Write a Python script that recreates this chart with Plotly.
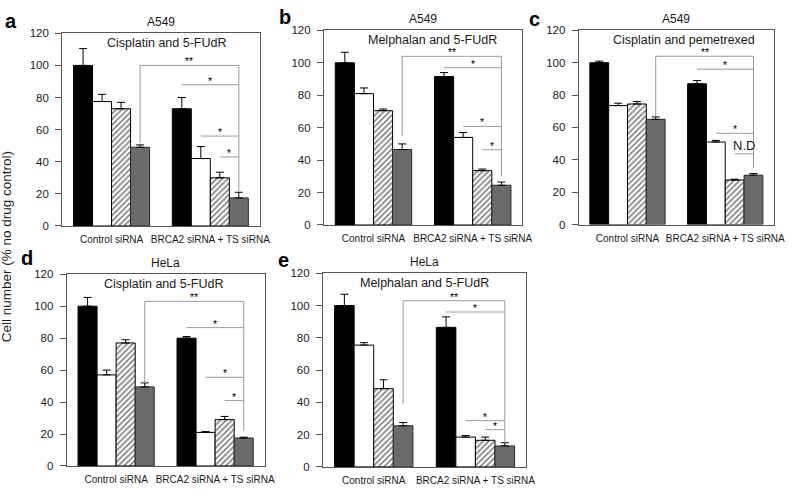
import plotly.graph_objects as go

W, H = 794, 490

groups = ["Control siRNA", "BRCA2 siRNA + TS siRNA"]
conditions = ["No drug", "Drug A", "Drug B", "Combination"]

panel_letters = ["a", "b", "c", "d", "e"]
cell_lines = ["A549", "A549", "A549", "HeLa", "HeLa"]
treatments = ["Cisplatin and 5-FUdR", "Melphalan and 5-FUdR", "Cisplatin and pemetrexed",
              "Cisplatin and 5-FUdR", "Melphalan and 5-FUdR"]

# means[condition] = [Control siRNA, BRCA2 siRNA + TS siRNA]; tops = mean + SD
a_means = [[100, 73], [77.5, 42], [73, 30], [49, 17.5]]
a_tops = [[110.5, 80], [82, 49.5], [77, 33.5], [50.5, 21]]
b_means = [[100, 91.5], [81, 54], [70.5, 33.5], [46.5, 24.5]]
b_tops = [[106.5, 94], [84.5, 57], [71.5, 34.5], [50, 26.5]]
c_means = [[100, 87], [73.5, 51], [74.5, 27.5], [65, 30.5]]
c_tops = [[101, 89], [75, 52], [76, 28], [66.5, 31.5]]
d_means = [[100, 80], [57, 21], [77, 29], [49.5, 17.5]]
d_tops = [[105.5, 81], [60, 21.5], [79, 31], [52, 18]]
e_means = [[100, 86.5], [75.5, 18.5], [48.5, 16.5], [25.5, 13]]
e_tops = [[107, 93], [77, 19.5], [54, 18.5], [27.5, 15]]

all_means = [a_means, b_means, c_means, d_means, e_means]
all_tops = [a_tops, b_tops, c_tops, d_tops, e_tops]

# significance brackets: (level of ** line, left foot, right foot, [(condition, level, label)])
a_sig = (100, 52, 21.5, [(0, 88, "*"), (1, 56, "*"), (2, 43, "*")])
b_sig = (104, 55, 30, [(0, 97, "*"), (1, 60.8, "*"), (2, 46.4, "*")])
c_sig = (104, 67, 35, [(0, 96, "*"), (1, 56.4, "*"), (2, 43.7, "N.D")])
d_sig = (103, 52, 22, [(0, 86.6, "*"), (1, 55.5, "*"), (2, 40.9, "*")])
e_sig = (103, 38.7, 15, [(0, 96, "*"), (1, 28.7, "*"), (2, 23.1, "*")])
all_sig = [a_sig, b_sig, c_sig, d_sig, e_sig]

y_ticks = [0, 20, 40, 60, 80, 100, 120]

# layout (pixels): left, right, top, bottom of each plot box
boxes = [(63, 263, 28, 225.5), (328, 529, 25, 224.5), (586, 784, 25, 224),
         (67.5, 268, 275, 471.5), (327, 533, 274, 472.5)]
subtitle_x = [0.53, 0.545, 0.54, 0.49, 0.5]
letter_pos = [(11.5, 15), (288.5, 11), (541, 13), (27, 258), (287, 260)]

BARGAP = 0.23
fills = ["#000000", "#ffffff", "#ffffff", "#6b6b6b"]
lines = ["#000000", "#000000", "#000000", "#2a2a2a"]
FONT = "Liberation Sans, Arial, sans-serif"
BRK = "#9a9a9a"
TXT = "#1a1a1a"

fig = go.Figure()
shapes = []
annotations = []
layout = {}


def bar_center(gi, ci):
    return gi + (ci - 1.5) * (1 - BARGAP) / 4


for p in range(5):
    n = "" if p == 0 else str(p + 1)
    xa, ya = "x" + n, "y" + n
    l, r, t, b = boxes[p]
    layout["xaxis" + n] = dict(
        domain=[l / W, r / W], anchor=ya, type="category", categoryorder="array",
        categoryarray=groups, range=[-0.5, 1.5], showline=True, mirror=True,
        linecolor="#555", linewidth=1, ticks="", showgrid=False, zeroline=False,
        tickfont=dict(size=10, color=TXT, family=FONT), ticklabelstandoff=4,
    )
    layout["yaxis" + n] = dict(
        domain=[1 - b / H, 1 - t / H], anchor=xa, range=[0, 120], tickvals=y_ticks,
        showline=True, mirror=True, linecolor="#555", linewidth=1, ticks="outside",
        ticklen=6, tickcolor="#555", showgrid=False, zeroline=False,
        tickfont=dict(size=11.5, color=TXT, family=FONT), ticklabelstandoff=4,
    )
    means, tops = all_means[p], all_tops[p]
    for ci in range(4):
        up = [tops[ci][g] - means[ci][g] for g in range(2)]
        marker = dict(color=fills[ci], line=dict(color=lines[ci], width=1))
        if ci == 2:
            marker["pattern"] = dict(shape="/", fgcolor="#000000", bgcolor="#ffffff",
                                     size=4, solidity=0.4)
        fig.add_trace(go.Bar(
            x=groups, y=means[ci], name=conditions[ci], xaxis=xa, yaxis=ya,
            marker=marker, showlegend=False, hoverinfo="skip",
            error_y=dict(type="data", symmetric=False, array=up, arrayminus=[0, 0],
                         color="#000000", thickness=1, width=4),
        ))

    # brackets
    top, lfoot, rfoot, stars = all_sig[p]
    xl = bar_center(0, 3)
    xr = bar_center(1, 3)
    ln = dict(color=BRK, width=1)
    shapes.append(dict(type="line", xref=xa, yref=ya, x0=xl, x1=xl, y0=lfoot, y1=top, line=ln))
    shapes.append(dict(type="line", xref=xa, yref=ya, x0=xl, x1=xr, y0=top, y1=top, line=ln))
    shapes.append(dict(type="line", xref=xa, yref=ya, x0=xr, x1=xr, y0=rfoot, y1=top, line=ln))
    annotations.append(dict(xref=xa, yref=ya, x=(xl + xr) / 2, y=top, text="**",
                            showarrow=False, yanchor="bottom", yshift=-3, borderpad=0,
                            font=dict(size=10.5, color="#000", family=FONT)))
    for ci, lev, lab in stars:
        xs = bar_center(1, ci)
        shapes.append(dict(type="line", xref=xa, yref=ya, x0=xs, x1=xr, y0=lev, y1=lev, line=ln))
        if lab == "*":
            fnt = dict(size=10.5, color="#000", family=FONT)
            ys = -3
        else:
            fnt = dict(size=13, color=TXT, family=FONT)
            ys = 0
        annotations.append(dict(xref=xa, yref=ya, x=(xs + xr) / 2, y=lev, text=lab,
                                showarrow=False, yanchor="bottom", yshift=ys, borderpad=0,
                                font=fnt))

    # titles
    annotations.append(dict(xref=xa + " domain", yref=ya + " domain", x=0.5, y=1,
                            yshift=11, text=cell_lines[p], showarrow=False, borderpad=0,
                            yanchor="middle", font=dict(size=12, color=TXT, family=FONT)))
    annotations.append(dict(xref=xa + " domain", yref=ya + " domain", x=subtitle_x[p], y=1,
                            yshift=-9.5, text=treatments[p], showarrow=False, borderpad=0,
                            yanchor="middle", font=dict(size=12.5, color=TXT, family=FONT)))
    lx, ly = letter_pos[p]
    annotations.append(dict(xref="paper", yref="paper", x=lx / W, y=1 - ly / H,
                            text="<b>" + panel_letters[p] + "</b>", showarrow=False,
                            xanchor="center", yanchor="middle",
                            font=dict(size=20, color="#000", family=FONT)))

annotations.append(dict(xref="paper", yref="paper", x=7.5 / W, y=1 - 247 / H,
                        text="Cell number (% no drug control)", textangle=-90,
                        showarrow=False, xanchor="center", yanchor="middle",
                        font=dict(size=13.5, color=TXT, family=FONT)))

fig.update_layout(
    width=W, height=H, margin=dict(l=0, r=0, t=0, b=0),
    paper_bgcolor="white", plot_bgcolor="white",
    barmode="group", bargap=BARGAP, bargroupgap=0,
    shapes=shapes, annotations=annotations, hovermode=False, **layout,
)

fig.write_html(
    "out.html",
    config={"displayModeBar": False, "responsive": False},
    post_script=(
        "document.documentElement.style.margin='0';"
        "document.body.style.margin='0';document.body.style.padding='0';"
        "document.body.style.overflow='hidden';"
        "var gd=document.getElementById('{plot_id}');"
        "gd.style.position='fixed';gd.style.left='0px';gd.style.top='0px';"
    ),
)
